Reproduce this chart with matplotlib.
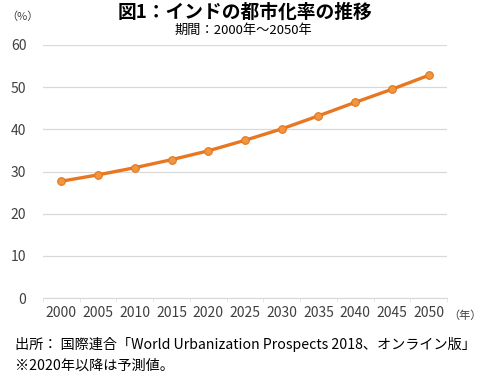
import numpy as np
import matplotlib.pyplot as plt

plt.rcParams['font.family'] = ['Noto Sans CJK JP', 'DejaVu Sans']

# インドの都市化率（%）
years = ['2000', '2005', '2010', '2015', '2020', '2025', '2030', '2035', '2040', '2045', '2050']
rate = [27.7, 29.2, 30.9, 32.8, 34.9, 37.4, 40.1, 43.2, 46.4, 49.5, 52.8]
yticks = [0, 10, 20, 30, 40, 50, 60]

W, H = 484, 380
fig = plt.figure(figsize=(W / 100, H / 100), dpi=100)
ax = fig.add_axes([43 / W, 1 - 298 / H, (447 - 43) / W, (298 - 45) / H])

x = np.arange(len(years))
ax.plot(x, rate, color='#E87722', lw=2.4, marker='o', ms=5.5,
        mfc='#F29540', mec='#E0761E', mew=0.8, zorder=3)

ax.set_xlim(-0.5, len(years) - 0.5)
ax.set_ylim(0, 60)
ax.set_yticks(yticks)
ax.set_xticks(x)
ax.set_xticklabels(years)
ax.set_xticks(np.arange(-0.5, len(years), 1), minor=True)
ax.grid(axis='y', color='#D9D9D9', lw=0.9)
ax.set_axisbelow(True)
for s in ['top', 'right', 'left']:
    ax.spines[s].set_visible(False)
ax.spines['bottom'].set_color('#D9D9D9')
ax.tick_params(axis='y', length=0, pad=12, labelsize=10, labelcolor='#404040')
ax.tick_params(axis='x', which='major', length=0, pad=6, labelsize=10, labelcolor='#404040')
ax.tick_params(axis='x', which='minor', length=3, color='#E3E3E3')

fig.text(245 / W, 1 - 12 / H, '図1：インドの都市化率の推移', ha='center', va='center',
         fontsize=13.5, fontweight='bold')
fig.text(243 / W, 1 - 30 / H, '期間：2000年～2050年', ha='center', va='center', fontsize=9.5)
fig.text(22 / W, 1 - 17 / H, '（%）', ha='center', va='center', fontsize=8, color='#404040')
fig.text(465 / W, 1 - 316 / H, '（年）', ha='center', va='center', fontsize=8, color='#404040')
fig.text(15 / W, 1 - 345 / H, '出所： 国際連合「World Urbanization Prospects 2018、オンライン版」',
         ha='left', va='center', fontsize=10.2)
fig.text(15 / W, 1 - 366 / H, '※2020年以降は予測値。', ha='left', va='center', fontsize=10.2)

fig.savefig('out.png', dpi=100)
